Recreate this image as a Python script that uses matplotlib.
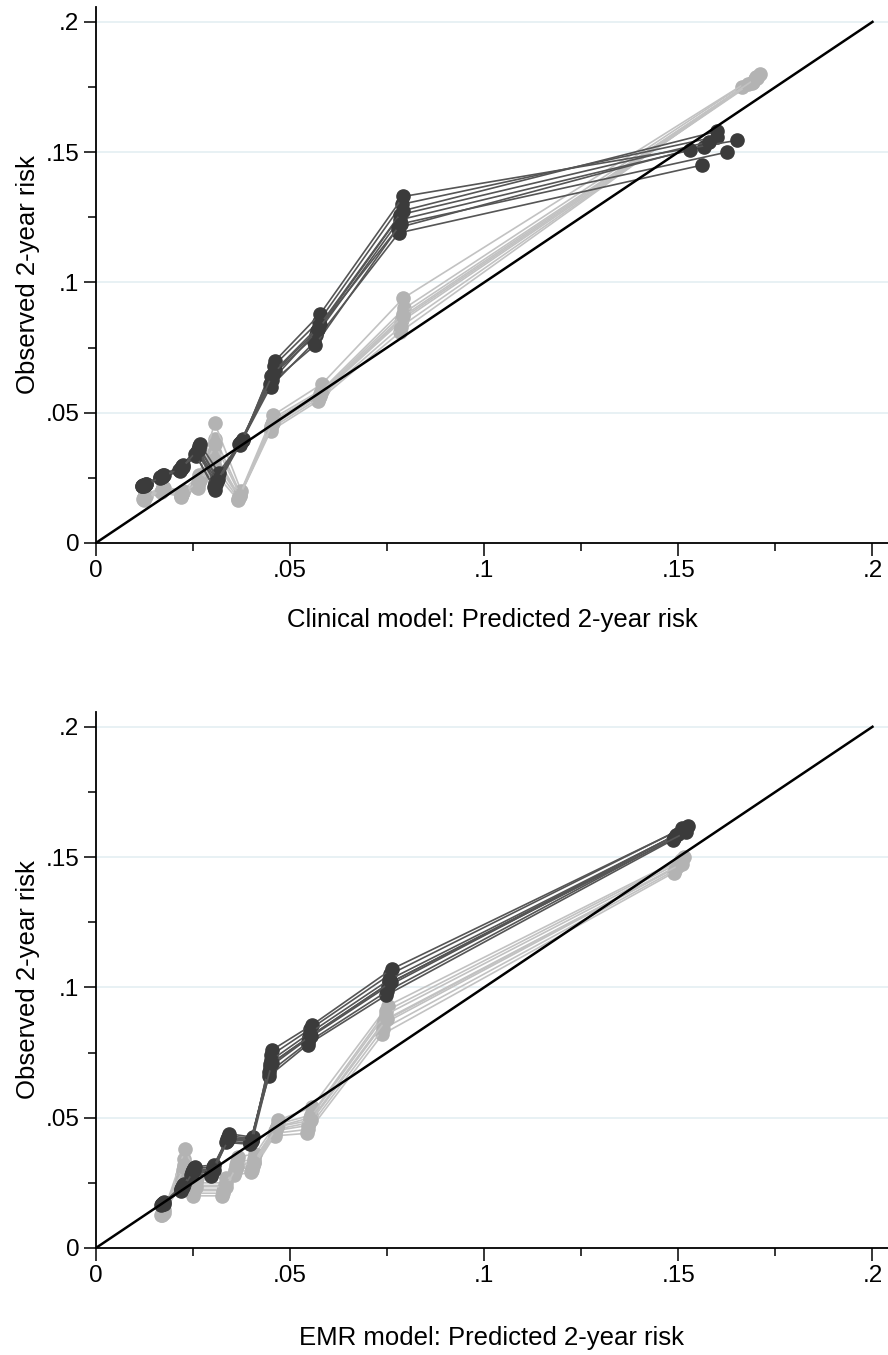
import matplotlib
matplotlib.use("Agg")
import matplotlib.pyplot as plt
from matplotlib.ticker import MultipleLocator, FuncFormatter

plt.rcParams['font.family'] = ['Liberation Sans', 'DejaVu Sans']

# ---- Clinical model (top panel): bootstrap calibration curves, 10 deciles each ----
clin_dark_x = [
    [.0120, .0168, .0218, .0260, .0308, .0372, .0452, .0568, .0782, .1565],
    [.0128, .0172, .0222, .0265, .0312, .0378, .0458, .0574, .0788, .1600],
    [.0124, .0166, .0216, .0258, .0306, .0370, .0450, .0562, .0780, .1560],
    [.0130, .0175, .0225, .0268, .0316, .0380, .0462, .0578, .0792, .1650],
    [.0122, .0170, .0220, .0262, .0310, .0374, .0454, .0570, .0784, .1580],
    [.0126, .0173, .0224, .0266, .0314, .0377, .0460, .0576, .0790, .1600],
    [.0119, .0165, .0215, .0256, .0304, .0369, .0448, .0565, .0778, .1530],
    [.0127, .0171, .0219, .0263, .0311, .0376, .0456, .0572, .0786, .1625],
]
clin_dark_y = [
    [.0220, .0255, .0282, .0350, .0230, .0385, .0640, .0800, .1240, .1520],
    [.0225, .0260, .0295, .0372, .0250, .0395, .0680, .0850, .1300, .1560],
    [.0218, .0250, .0275, .0335, .0205, .0375, .0600, .0770, .1190, .1450],
    [.0228, .0262, .0300, .0380, .0270, .0400, .0700, .0880, .1330, .1545],
    [.0222, .0254, .0288, .0355, .0225, .0388, .0625, .0815, .1260, .1540],
    [.0224, .0258, .0290, .0362, .0245, .0392, .0660, .0835, .1275, .1580],
    [.0219, .0252, .0280, .0340, .0215, .0380, .0610, .0760, .1210, .1510],
    [.0221, .0256, .0285, .0358, .0238, .0390, .0650, .0820, .1225, .1500],
]
clin_light_x = [
    [.0122, .0170, .0220, .0262, .0302, .0368, .0452, .0576, .0786, .1690],
    [.0128, .0175, .0225, .0268, .0308, .0372, .0458, .0584, .0794, .1700],
    [.0124, .0168, .0218, .0264, .0300, .0366, .0450, .0572, .0784, .1665],
    [.0126, .0174, .0224, .0266, .0306, .0374, .0456, .0582, .0792, .1710],
    [.0123, .0171, .0221, .0263, .0304, .0369, .0453, .0578, .0788, .1692],
    [.0127, .0173, .0223, .0267, .0307, .0371, .0457, .0580, .0790, .1698],
    [.0125, .0169, .0219, .0261, .0303, .0367, .0451, .0574, .0785, .1680],
    [.0124, .0172, .0222, .0265, .0305, .0370, .0455, .0579, .0791, .1702],
]
clin_light_y = [
    [.0170, .0200, .0185, .0225, .0330, .0175, .0450, .0565, .0850, .1765],
    [.0180, .0210, .0195, .0240, .0400, .0190, .0480, .0590, .0900, .1790],
    [.0165, .0195, .0178, .0210, .0280, .0165, .0430, .0545, .0810, .1750],
    [.0185, .0215, .0200, .0260, .0460, .0200, .0490, .0610, .0940, .1800],
    [.0172, .0205, .0188, .0230, .0350, .0178, .0455, .0570, .0860, .1770],
    [.0178, .0208, .0192, .0245, .0380, .0185, .0470, .0580, .0880, .1780],
    [.0168, .0198, .0182, .0215, .0300, .0170, .0440, .0555, .0830, .1760],
    [.0175, .0202, .0190, .0235, .0320, .0182, .0460, .0575, .0870, .1785],
]

# ---- EMR model (bottom panel) ----
emr_dark_x = [
    [.0170, .0220, .0248, .0298, .0338, .0398, .0448, .0548, .0752, .1495],
    [.0174, .0224, .0252, .0302, .0342, .0402, .0452, .0552, .0758, .1510],
    [.0168, .0218, .0246, .0296, .0336, .0396, .0446, .0545, .0748, .1485],
    [.0176, .0226, .0254, .0304, .0344, .0404, .0454, .0556, .0762, .1525],
    [.0171, .0221, .0249, .0299, .0339, .0399, .0449, .0549, .0754, .1500],
    [.0173, .0223, .0251, .0301, .0341, .0401, .0451, .0551, .0756, .1515],
    [.0169, .0219, .0247, .0297, .0337, .0397, .0447, .0547, .0750, .1490],
    [.0175, .0225, .0253, .0303, .0343, .0403, .0453, .0554, .0760, .1520],
]
emr_dark_y = [
    [.0168, .0228, .0292, .0290, .0418, .0408, .0695, .0805, .1005, .1585],
    [.0172, .0240, .0305, .0310, .0430, .0420, .0740, .0840, .1050, .1610],
    [.0165, .0218, .0280, .0275, .0405, .0398, .0660, .0780, .0970, .1565],
    [.0175, .0245, .0312, .0318, .0438, .0425, .0760, .0855, .1070, .1620],
    [.0169, .0230, .0295, .0295, .0420, .0410, .0705, .0810, .1015, .1590],
    [.0171, .0235, .0300, .0302, .0425, .0415, .0720, .0825, .1030, .1600],
    [.0167, .0222, .0285, .0282, .0410, .0402, .0675, .0790, .0985, .1575],
    [.0170, .0232, .0298, .0298, .0422, .0412, .0710, .0815, .1020, .1595],
]
emr_light_x = [
    [.0170, .0222, .0252, .0328, .0358, .0402, .0462, .0546, .0740, .1495],
    [.0174, .0228, .0258, .0334, .0364, .0408, .0468, .0554, .0748, .1508],
    [.0168, .0220, .0250, .0326, .0356, .0400, .0460, .0544, .0738, .1488],
    [.0176, .0230, .0260, .0336, .0366, .0410, .0470, .0556, .0752, .1515],
    [.0171, .0224, .0254, .0330, .0360, .0404, .0464, .0548, .0742, .1498],
    [.0173, .0226, .0256, .0332, .0362, .0406, .0466, .0552, .0746, .1505],
    [.0169, .0221, .0251, .0327, .0357, .0401, .0461, .0545, .0739, .1492],
    [.0175, .0227, .0257, .0335, .0363, .0407, .0467, .0555, .0750, .1510],
]
emr_light_y = [
    [.0130, .0280, .0220, .0220, .0300, .0310, .0450, .0470, .0860, .1460],
    [.0140, .0340, .0250, .0250, .0330, .0340, .0475, .0510, .0910, .1490],
    [.0125, .0240, .0200, .0200, .0280, .0290, .0430, .0440, .0820, .1440],
    [.0145, .0380, .0270, .0270, .0350, .0360, .0490, .0540, .0930, .1500],
    [.0132, .0300, .0225, .0225, .0305, .0315, .0455, .0480, .0870, .1465],
    [.0138, .0320, .0240, .0240, .0320, .0330, .0465, .0500, .0895, .1480],
    [.0128, .0260, .0210, .0210, .0290, .0300, .0440, .0455, .0840, .1450],
    [.0135, .0310, .0235, .0235, .0315, .0325, .0465, .0490, .0880, .1475],
]

xlabels = ["Clinical model: Predicted 2-year risk", "EMR model: Predicted 2-year risk"]
ylabel = "Observed 2-year risk"

DARK_LINE, DARK_MARK = "#555555", "#3b3b3b"
LIGHT_LINE, LIGHT_MARK = "#c2c2c2", "#b3b3b3"


def fmt(v, pos):
    if abs(v) < 1e-9:
        return "0"
    return ("%g" % round(v, 3)).lstrip("0")


def draw_panel(ax, dark_x, dark_y, light_x, light_y, xlabel, labelpad):
    for xs, ys in zip(light_x, light_y):
        ax.plot(xs, ys, color=LIGHT_LINE, lw=1.2, marker='o', ms=9.5,
                mfc=LIGHT_MARK, mec=LIGHT_MARK, zorder=2)
    for xs, ys in zip(dark_x, dark_y):
        ax.plot(xs, ys, color=DARK_LINE, lw=1.2, marker='o', ms=9.5,
                mfc=DARK_MARK, mec=DARK_MARK, zorder=3)
    ax.plot([0, 0.2], [0, 0.2], color='black', lw=1.8, zorder=4)

    ax.set_xlim(0, 0.204)
    ax.set_ylim(0, 0.2057)
    ax.xaxis.set_major_locator(MultipleLocator(0.05))
    ax.xaxis.set_minor_locator(MultipleLocator(0.025))
    ax.yaxis.set_major_locator(MultipleLocator(0.05))
    ax.yaxis.set_minor_locator(MultipleLocator(0.025))
    ax.xaxis.set_major_formatter(FuncFormatter(fmt))
    ax.yaxis.set_major_formatter(FuncFormatter(fmt))
    ax.tick_params(which='major', direction='out', length=9, width=1.1, labelsize=17.5, pad=3)
    ax.tick_params(which='minor', direction='out', length=6, width=1.1)
    for yv in [0.05, 0.1, 0.15, 0.2]:
        ax.axhline(yv, color='#e2eef1', lw=1.1, zorder=0)
    for s in ['top', 'right']:
        ax.spines[s].set_visible(False)
    for s in ['left', 'bottom']:
        ax.spines[s].set_linewidth(1.3)
    ax.set_xlabel(xlabel, fontsize=18.5, labelpad=labelpad)
    ax.set_ylabel(ylabel, fontsize=18.5, labelpad=4)


fig = plt.figure(figsize=(8.88, 13.55), dpi=100)
ax1 = fig.add_axes([0.108, 0.5993, 0.892, 0.3955])
ax2 = fig.add_axes([0.108, 0.0790, 0.892, 0.3956])

draw_panel(ax1, clin_dark_x, clin_dark_y, clin_light_x, clin_light_y, xlabels[0], 19)
draw_panel(ax2, emr_dark_x, emr_dark_y, emr_light_x, emr_light_y, xlabels[1], 28)

fig.savefig("out.png", dpi=100)
